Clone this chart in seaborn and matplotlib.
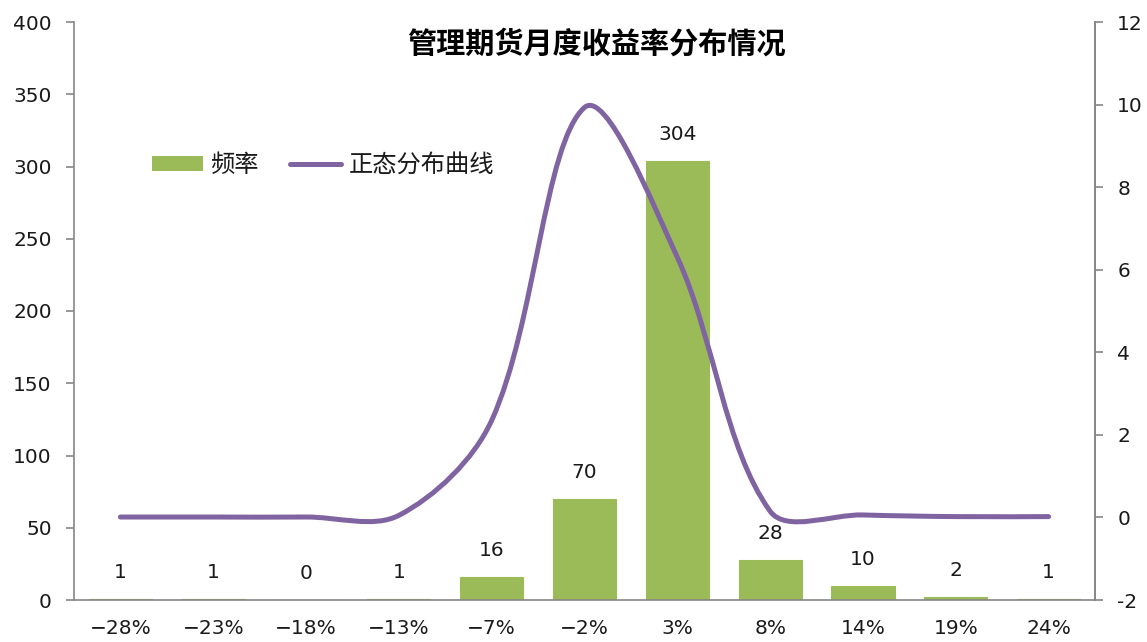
import numpy as np
import pandas as pd
import matplotlib
matplotlib.use("Agg")
import matplotlib.pyplot as plt
from matplotlib.path import Path
from matplotlib.patches import PathPatch, Patch
from matplotlib.lines import Line2D
import seaborn as sns

# Monthly return buckets, frequency counts and normal-curve values
categories = ["−28%", "−23%", "−18%", "−13%", "−7%", "−2%", "3%", "8%", "14%", "19%", "24%"]
frequency = [1, 1, 0, 1, 16, 70, 304, 28, 10, 2, 1]
normal_curve = [0.01, 0.01, 0.01, 0.05, 2.35, 9.93, 6.3, 0.15, 0.06, 0.02, 0.02]
left_ticks = [0, 50, 100, 150, 200, 250, 300, 350, 400]
right_ticks = [-2, 0, 2, 4, 6, 8, 10, 12]

title = "管理期货月度收益率分布情况"
bar_label = "频率"
line_label = "正态分布曲线"

sns.set_theme(style="white")
plt.rcParams["font.family"] = ["Noto Sans CJK SC", "DejaVu Sans"]

BAR_COLOR = "#9BBB59"
LINE_COLOR = "#8064A2"
AXIS_COLOR = "#868686"
TEXT_COLOR = "#1a1a1a"
NUM_FONT = ["DejaVu Sans"]
NUM_SIZE = 14.5

W, H = 1147, 642
fig = plt.figure(figsize=(W / 100, H / 100), dpi=100)
ax = fig.add_axes([74 / W, 42 / H, (1095 - 74) / W, (600 - 22) / H])

df = pd.DataFrame({"bucket": categories, "count": frequency})
sns.barplot(data=df, x="bucket", y="count", order=categories, color=BAR_COLOR,
            saturation=1, width=0.68, ax=ax, edgecolor=BAR_COLOR, linewidth=0.8)

ax.set_xlim(-0.5, len(categories) - 0.5)
ax.set_ylim(0, 400)
ax.set_yticks(left_ticks)
ax.set_xlabel("")
ax.set_ylabel("")

# Count labels above each bar
for i, v in enumerate(frequency):
    ax.annotate(str(v), (i, v), xytext=(0, 12), textcoords="offset points",
                ha="center", va="bottom", fontsize=NUM_SIZE, color=TEXT_COLOR,
                family=NUM_FONT)

# Category labels centred, tick marks on bucket boundaries
ax.set_xticks(range(len(categories)))
ax.set_xticklabels(categories, family=NUM_FONT, fontsize=NUM_SIZE, color=TEXT_COLOR)
ax.set_xticks(np.arange(-0.5, len(categories)), minor=True)
ax.tick_params(axis="x", which="major", length=0, pad=14)
ax.tick_params(axis="x", which="minor", length=6, width=1.2, color=AXIS_COLOR, direction="out")
ax.tick_params(axis="y", length=6, width=1.2, color=AXIS_COLOR, direction="out",
               labelsize=NUM_SIZE, labelcolor=TEXT_COLOR, pad=10)
for lab in ax.get_yticklabels():
    lab.set_family(NUM_FONT)

ax.spines["top"].set_visible(False)
for side in ["left", "bottom", "right"]:
    ax.spines[side].set_color(AXIS_COLOR)
    ax.spines[side].set_linewidth(1.2)

# Secondary axis for the smoothed normal curve
ax2 = ax.twinx()
ax2.set_ylim(-2, 12)
ax2.set_yticks(right_ticks)
ax2.set_yticklabels([str(t) for t in right_ticks], family=NUM_FONT)
ax2.tick_params(axis="y", length=6, width=1.2, color=AXIS_COLOR, direction="out",
                labelsize=NUM_SIZE, labelcolor=TEXT_COLOR, pad=10)
for side in ["top", "left", "bottom"]:
    ax2.spines[side].set_visible(False)
ax2.spines["right"].set_color(AXIS_COLOR)
ax2.spines["right"].set_linewidth(1.2)
ax2.grid(False)
ax.grid(False)

# Smooth curve through the points: cubic Bezier segments whose tangents are
# weighted by the on-screen lengths of the neighbouring segments
xs = np.arange(len(normal_curve), dtype=float)
ys = np.asarray(normal_curve, dtype=float)
fig.canvas.draw()
pix = ax2.transData.transform(np.column_stack([xs, ys]))
n = len(pix)
seg = np.linalg.norm(np.diff(pix, axis=0), axis=1)
tang = np.zeros_like(pix)
for i in range(n):
    a = pix[i - 1] if i > 0 else pix[i]
    b = pix[i + 1] if i < n - 1 else pix[i]
    tang[i] = b - a
verts_pix = [pix[0]]
codes = [Path.MOVETO]
for i in range(n - 1):
    d_prev = seg[i - 1] if i > 0 else seg[i]
    d_next = seg[i + 1] if i + 1 < n - 1 else seg[i]
    c1 = pix[i] + tang[i] * seg[i] / (d_prev + seg[i]) / 3.0
    c2 = pix[i + 1] - tang[i + 1] * seg[i] / (seg[i] + d_next) / 3.0
    verts_pix += [c1, c2, pix[i + 1]]
    codes += [Path.CURVE4] * 3
verts = ax2.transData.inverted().transform(np.array(verts_pix))
curve = PathPatch(Path(verts, codes), facecolor="none", edgecolor=LINE_COLOR,
                  linewidth=3.6, capstyle="round", joinstyle="round")
ax2.add_patch(curve)

# Title
fig.text(596 / W, 1 - 44 / H, title, ha="center", va="center", fontsize=21,
         fontweight="bold", color="#000000")

# Legend
handles = [Patch(facecolor=BAR_COLOR, edgecolor="none"),
           Line2D([0], [0], color=LINE_COLOR, linewidth=3.6, solid_capstyle="round")]
leg = fig.legend(handles, [bar_label, line_label], loc="center left",
                 bbox_to_anchor=(152 / W, 1 - 165 / H), bbox_transform=fig.transFigure,
                 ncol=2, frameon=False, borderpad=0, borderaxespad=0,
                 fontsize=17.5, handlelength=2.1, handleheight=0.55,
                 columnspacing=1.3, handletextpad=0.3)
for t in leg.get_texts():
    t.set_color(TEXT_COLOR)

fig.savefig("out.png", dpi=100)
